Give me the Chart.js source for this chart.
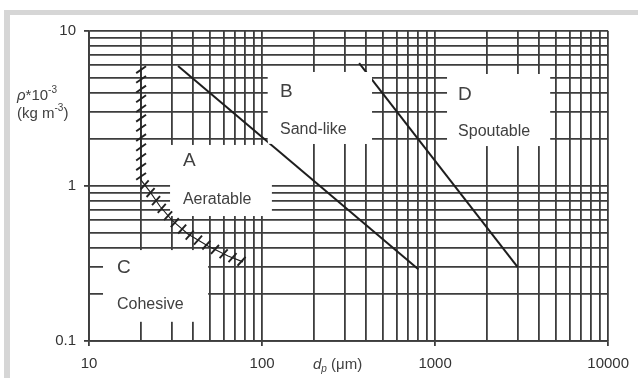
<!DOCTYPE html>
<html>
<head>
<meta charset="utf-8">
<script src="https://cdn.jsdelivr.net/npm/chart.js@4"></script>
<style>
  html, body { margin: 0; padding: 0; background: #fff; }
</style>
</head>
<body>
<canvas id="grafico" width="638" height="378"></canvas>
<script>
// ticks
const xTicks = [10, 20, 30, 40, 50, 60, 70, 80, 90,
  100, 200, 300, 400, 500, 600, 700, 800, 900,
  1000, 2000, 3000, 4000, 5000, 6000, 7000, 8000, 9000, 10000];
const yTicks = [0.1, 0.2, 0.3, 0.4, 0.5, 0.6, 0.7, 0.8, 0.9,
  1, 2, 3, 4, 5, 6, 7, 8, 9, 10];
const xLabels = ['10', '100', '1000', '10000'];
const yLabels = ['0.1', '1', '10'];

// boundaries (dp in um, density * 1e-3)
const abX = [32.7, 800];
const abY = [5.95, 0.29];
const bdX = [364, 3000];
const bdY = [6.2, 0.3];
const acX = [20, 20, 22.5, 25.7, 30.2, 37.3, 48.7, 63.6, 77.6];
const acY = [5.8, 1.09, 0.92, 0.74, 0.6, 0.49, 0.41, 0.354, 0.324];

const grupos = ['A', 'B', 'C', 'D'];
const nomes = ['Aeratable', 'Sand-like', 'Cohesive', 'Spoutable'];

const fonte = '"Liberation Sans", Arial, sans-serif';
const corGrade = '#3d3d3d';
const corTexto = '#404040';

// label anchors and white boxes, in data coordinates
const posLabel = [[34.9, 1.45, 0.812], [127, 4.04, 2.30], [14.5, 0.296, 0.173], [1358, 3.86, 2.26]];
const caixas = [[29.4, 114, 1.84, 0.64], [108, 432, 5.44, 1.87], [12.05, 48.8, 0.386, 0.133], [1172, 4624, 5.28, 1.81]];

function pares(xs, ys) {
  return xs.map((x, i) => ({ x: x, y: ys[i] }));
}

function caixa(chart, b) {
  const sx = chart.scales.x, sy = chart.scales.y;
  const x1 = sx.getPixelForValue(b[0]), x2 = sx.getPixelForValue(b[1]);
  const y1 = sy.getPixelForValue(b[2]), y2 = sy.getPixelForValue(b[3]);
  chart.ctx.fillRect(x1, y1, x2 - x1, y2 - y1);
}

const fundo = {
  id: 'fundo',
  beforeDraw(chart) {
    const c = chart.ctx;
    c.save();
    c.fillStyle = '#d6d6d6';
    c.fillRect(4, 10, 634, 5);
    c.fillRect(4, 10, 6, 368);
    c.restore();
  },
  beforeDatasetsDraw(chart) {
    const c = chart.ctx;
    c.save();
    c.fillStyle = '#fff';
    caixas.forEach(b => caixa(chart, b));
    c.restore();
  },
  afterDatasetsDraw(chart) {
    const c = chart.ctx, sx = chart.scales.x, sy = chart.scales.y;
    c.save();
    // the B box hides the top of the B/D line
    c.fillStyle = '#fff';
    caixa(chart, caixas[1]);

    // hatch marks along the A/C boundary
    const pts = chart.getDatasetMeta(2).data.map(p => ({ x: p.x, y: p.y }));
    c.strokeStyle = '#222';
    c.lineWidth = 1.9;
    const passo = 9.7, meio = 6;
    let resto = 2;
    for (let i = 1; i < pts.length; i++) {
      const a = pts[i - 1], b = pts[i];
      const len = Math.hypot(b.x - a.x, b.y - a.y);
      const ang = (i === 1 ? 35 : 48) * Math.PI / 180;
      let d = resto;
      while (d <= len) {
        const px = a.x + (b.x - a.x) * d / len, py = a.y + (b.y - a.y) * d / len;
        c.beginPath();
        c.moveTo(px - meio * Math.cos(ang), py + meio * Math.sin(ang));
        c.lineTo(px + meio * Math.cos(ang), py - meio * Math.sin(ang));
        c.stroke();
        d += passo;
      }
      resto = d - len;
    }

    // region labels
    c.fillStyle = corTexto;
    c.textAlign = 'left';
    c.textBaseline = 'middle';
    grupos.forEach((g, i) => {
      const p = posLabel[i];
      const x = sx.getPixelForValue(p[0]);
      c.font = '19px ' + fonte;
      c.fillText(g, x, sy.getPixelForValue(p[1]));
      c.font = '16px ' + fonte;
      c.fillText(nomes[i], x, sy.getPixelForValue(p[2]));
    });

    // axis titles
    c.textBaseline = 'alphabetic';
    let x = 17;
    c.font = 'italic 15px ' + fonte;
    c.fillText('ρ', x, 100); x += c.measureText('ρ').width;
    c.font = '15px ' + fonte;
    c.fillText('*10', x, 100); x += c.measureText('*10').width;
    c.font = '10px ' + fonte;
    c.fillText('-3', x, 93);
    x = 17;
    c.font = '15px ' + fonte;
    c.fillText('(kg m', x, 118); x += c.measureText('(kg m').width;
    c.font = '10px ' + fonte;
    c.fillText('-3', x, 111); x += c.measureText('-3').width;
    c.font = '15px ' + fonte;
    c.fillText(')', x, 118);

    x = 313;
    c.font = 'italic 15px ' + fonte;
    c.fillText('d', x, 369); x += c.measureText('d').width;
    c.font = 'italic 10px ' + fonte;
    c.fillText('p', x, 372); x += c.measureText('p').width;
    c.font = '15px ' + fonte;
    c.fillText(' (μm)', x, 369);
    c.restore();
  }
};

function potencia(v) {
  const l = Math.log10(v);
  return Math.abs(l - Math.round(l)) < 1e-6;
}

const linha = { showLine: true, pointRadius: 0, borderColor: '#1e1e1e', borderWidth: 2, tension: 0 };

new Chart(document.getElementById('grafico').getContext('2d'), {
  type: 'scatter',
  data: {
    datasets: [
      Object.assign({ data: pares(abX, abY) }, linha),
      Object.assign({ data: pares(bdX, bdY) }, linha),
      Object.assign({ data: pares(acX, acY) }, linha, { borderWidth: 1.1 })
    ]
  },
  options: {
    responsive: false,
    animation: false,
    layout: { padding: { top: 31, right: 29, left: 0, bottom: 0 } },
    plugins: { legend: { display: false }, tooltip: { enabled: false } },
    scales: {
      x: {
        type: 'logarithmic',
        min: 10, max: 10000,
        afterBuildTicks: s => { s.ticks = xTicks.map(v => ({ value: v, major: potencia(v) })); },
        afterFit: s => { s.height = 37; },
        grid: {
          color: corGrade, lineWidth: 1.8, tickLength: 5,
          tickColor: ctx => (ctx.tick && potencia(ctx.tick.value)) ? corGrade : 'rgba(0,0,0,0)'
        },
        border: { color: corGrade, width: 1.8 },
        ticks: {
          autoSkip: false, maxRotation: 0, padding: 9, color: '#333',
          font: { family: fonte, size: 15 },
          callback: v => xLabels.includes(String(v)) ? String(v) : ''
        }
      },
      y: {
        type: 'logarithmic',
        min: 0.1, max: 10,
        afterBuildTicks: s => { s.ticks = yTicks.map(v => ({ value: v, major: potencia(v) })); },
        afterFit: s => { s.width = 89; },
        grid: {
          color: corGrade, lineWidth: 1.8, tickLength: 5,
          tickColor: ctx => (ctx.tick && potencia(ctx.tick.value)) ? corGrade : 'rgba(0,0,0,0)'
        },
        border: { color: corGrade, width: 1.8 },
        ticks: {
          autoSkip: false, padding: 8, color: '#333',
          font: { family: fonte, size: 15 },
          callback: v => yLabels.includes(String(v)) ? String(v) : ''
        }
      }
    }
  },
  plugins: [fundo]
});
</script>
</body>
</html>
